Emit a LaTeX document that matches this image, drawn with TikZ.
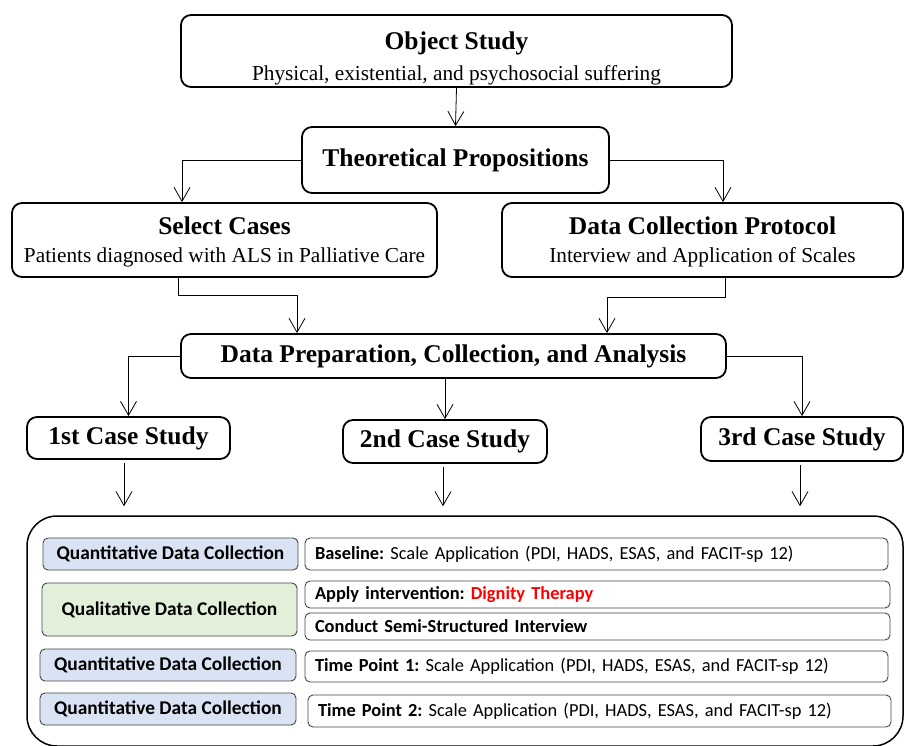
\documentclass[tikz,border=0pt]{standalone}
\usepackage{fontspec}
\setmainfont{Liberation Serif}
\newfontfamily\calibri{Carlito}
\usepackage{xcolor}
\usepackage{tikz}
\usetikzlibrary{positioning,%
  arrows.meta,%
  calc
}
\frenchspacing

\definecolor{quantblue}{RGB}{218,227,243}
\definecolor{qualgreen}{RGB}{226,240,217}
\definecolor{rowline}{RGB}{70,70,70}

\newcommand{\titlefont}{\bfseries\fontsize{25.5}{27}\selectfont}
\newcommand{\subfont}{\fontsize{21.3}{27}\selectfont}
\newcommand{\rowfont}{\calibri\fontsize{18.4}{21}\selectfont}

\begin{document}
\begin{tikzpicture}
                    [
                        x=1pt,y=-1pt,
                        mainbox/.style={draw,line width=1.8pt,rounded corners=10pt,align=center,inner sep=0pt},
                        flow/.style={line width=0.8pt,-{Straight Barb[length=14pt,width=16pt]}},
                        labelbox/.style={draw=rowline,line width=0.9pt,rounded corners=5pt,minimum width=255pt,
                            font=\calibri\bfseries\fontsize{19.4}{22}\selectfont,inner sep=0pt},
                        rowbox/.style={draw=rowline,line width=0.9pt,rounded corners=5pt,text width=563pt,
                            align=left,inner xsep=10pt,inner ysep=0pt,font=\rowfont}
                    ]

                    % Rahmen
                    \useasboundingbox (0,0) rectangle (904,746);

                    % upper flow
                    \node[mainbox,minimum width=551pt,minimum height=72pt] (object) at (456.5,51)
                        {{\titlefont\rule{0pt}{33pt}Object Study}\\[9pt]{\subfont Physical, existential, and psychosocial suffering}};
                    \node[mainbox,minimum width=307pt,minimum height=66pt] (theory) at (455.5,160)
                        {\titlefont Theoretical Propositions};
                    \node[mainbox,minimum width=425pt,minimum height=74pt] (select) at (224.5,240)
                        {{\titlefont\rule{0pt}{22pt}Select Cases}\\[12pt]{\subfont Patients diagnosed with ALS in Palliative Care}};
                    \node[mainbox,minimum width=401pt,minimum height=74pt] (protocol) at (702.5,240)
                        {{\titlefont\rule{0pt}{22pt}Data Collection Protocol}\\[12pt]{\subfont Interview and Application of Scales}};
                    \node[mainbox,minimum width=545pt,minimum height=44pt] (prep) at (453.5,356)
                        {\titlefont Data Preparation, Collection, and Analysis};

                    % case studies
                    \node[mainbox,minimum width=203pt,minimum height=42pt] (case1) at (128.5,438) {\titlefont 1st Case Study};
                    \node[mainbox,minimum width=204pt,minimum height=43pt] (case2) at (445,441.5) {\titlefont 2nd Case Study};
                    \node[mainbox,minimum width=202pt,minimum height=44pt] (case3) at (802,439) {\titlefont 3rd Case Study};

                    \draw[flow] (object.south) -- (theory.north);
                    \draw[flow] (theory.west) -| ([xshift=-42.5pt]select.north);
                    \draw[flow] (theory.east) -| ([xshift=20.5pt]protocol.north);
                    \draw[flow] ([xshift=-46.5pt]select.south) -- ++(0,17) -| ([xshift=-156.5pt]prep.north);
                    \draw[flow] ([xshift=22.5pt]protocol.south) -- ++(0,19) -| ([xshift=153.5pt]prep.north);
                    \draw[flow] (prep.west) -| (case1.north);
                    \draw[flow] (prep.east) -| (case3.north);
                    \draw[flow] (case2.north |- prep.south) -- (case2.north);

                    % lower panel
                    \node[draw,line width=1.5pt,rounded corners=30pt,minimum width=876pt,minimum height=230pt,inner sep=0pt]
                        (panel) at (465,631) {};

                    \draw[flow,shorten <=3pt,shorten >=9pt] ([xshift=-4.5pt]case1.south) -- ([xshift=-4.5pt]case1.south |- panel.north);
                    \draw[flow,shorten <=3pt,shorten >=9pt] ([xshift=-2pt]case2.south) -- ([xshift=-2pt]case2.south |- panel.north);
                    \draw[flow,shorten <=3pt,shorten >=9pt] ([xshift=-2pt]case3.south) -- ([xshift=-2pt]case3.south |- panel.north);

                    \node[labelbox,fill=quantblue,minimum height=32pt] (quant1) at (170.5,554) {Quantitative Data Collection};
                    \node[labelbox,fill=qualgreen,minimum height=53pt] (qual) at (169.5,609.5) {Qualitative Data Collection};
                    \node[labelbox,fill=quantblue,minimum height=32pt,minimum width=256pt] (quant2) at (168,665) {Quantitative Data Collection};
                    \node[labelbox,fill=quantblue,minimum height=32pt,minimum width=256pt] (quant3) at (168,709) {Quantitative Data Collection};

                    \node[rowbox,minimum height=32pt] (base) at (596.5,554)
                        {\textbf{Baseline:} Scale Application (PDI, HADS, ESAS, and FACIT-sp 12)};
                    \node[rowbox,minimum height=27pt,text width=565pt] (apply) at (597.5,594.5)
                        {\textbf{Apply intervention: \textcolor{red}{Dignity Therapy}}};
                    \node[rowbox,minimum height=27pt,text width=565pt] (semi) at (597.5,626.5)
                        {\textbf{Conduct Semi-Structured Interview}};
                    \node[rowbox,minimum height=31pt] (tp1) at (596.5,666.5)
                        {\textbf{Time Point 1:} Scale Application (PDI, HADS, ESAS, and FACIT-sp 12)};
                    \node[rowbox,minimum height=32pt] (tp2) at (599.5,711)
                        {\textbf{Time Point 2:} Scale Application (PDI, HADS, ESAS, and FACIT-sp 12)};
                \end{tikzpicture}
\end{document}
